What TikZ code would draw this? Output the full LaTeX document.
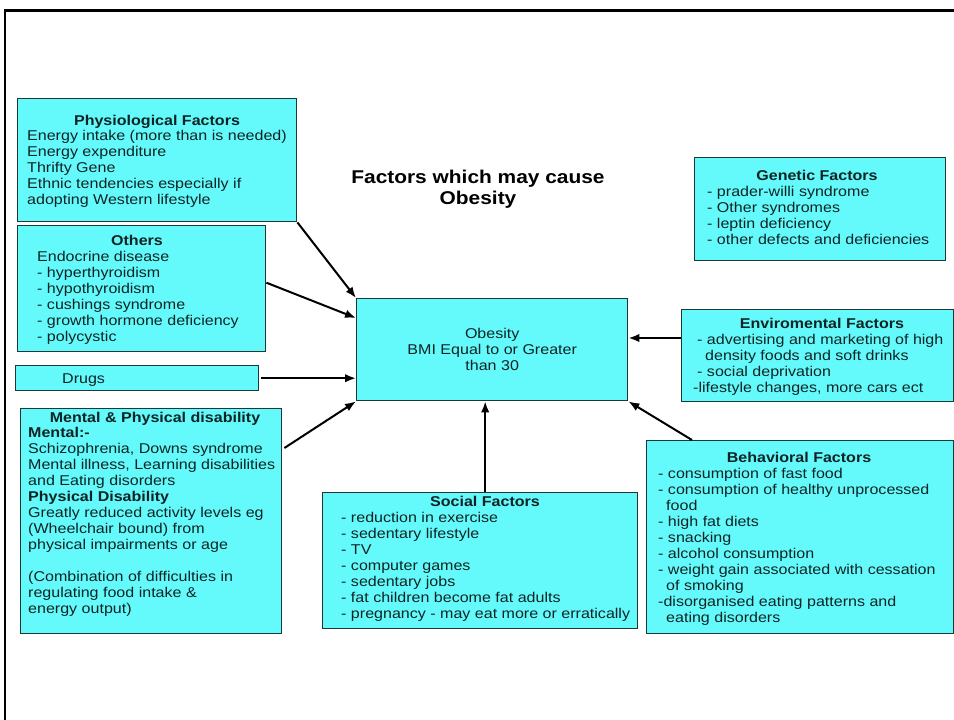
\documentclass[tikz,border=0pt]{standalone}
\usepackage{fontspec}
\setmainfont[FakeStretch=1.13]{Liberation Sans}
\usetikzlibrary{arrows.meta,calc}
\setlength{\parindent}{0pt}

\definecolor{boxfill}{RGB}{100,250,252}
\definecolor{boxline}{RGB}{30,55,55}
\definecolor{boxtext}{RGB}{14,36,36}
\newcommand{\bodysize}{\fontsize{14.2}{16}\selectfont}
\newcommand{\topstrut}{\rule{0pt}{12pt}}

\begin{document}
\begin{tikzpicture}[x=1pt,y=-1pt,
  panel/.style={draw=boxline, fill=boxfill, line width=1.4pt, inner sep=0pt, anchor=north west},
  head/.style={anchor=base, inner sep=0pt, font=\bodysize\bfseries, text=boxtext},
  body/.style={anchor=north west, inner sep=0pt, align=left, font=\bodysize, text=boxtext},
  arr/.style={line width=2pt, -{Latex[length=11pt,width=8.5pt]}}]

\useasboundingbox (0,0) rectangle (954,720);

% slide frame
\draw[line width=2.2pt] (5,720) -- (5,10.5) -- (954,10.5);

% title
\node[align=center, inner sep=0pt, font=\fontsize{18.5}{21}\selectfont\bfseries] (title) at (478,189)
  {Factors which may cause\\Obesity};

% boxes
\node[panel, minimum width=279pt, minimum height=123pt] (phys) at (17,98) {};
\node[panel, minimum width=248pt, minimum height=126pt] (others) at (17,225) {};
\node[panel, minimum width=243pt, minimum height=25pt] (drugs) at (15,365) {};
\node[panel, minimum width=261pt, minimum height=225pt] (mental) at (20,408) {};
\node[panel, minimum width=271pt, minimum height=102pt] (obes) at (356,298) {};
\node[panel, minimum width=251pt, minimum height=103pt] (genetic) at (694,157) {};
\node[panel, minimum width=272pt, minimum height=92pt] (env) at (681,309) {};
\node[panel, minimum width=307pt, minimum height=193pt] (behav) at (646,440) {};
\node[panel, minimum width=315pt, minimum height=136pt] (social) at (322,492) {};

% headings
\node[head] (physH) at (157,125) {Physiological Factors};
\node[head] (othersH) at (137,245) {Others};
\node[head] (mentalH) at (155,422) {Mental \& Physical disability};
\node[head] (geneticH) at (817,180) {Genetic Factors};
\node[head] (envH) at (822,328) {Enviromental Factors};
\node[head] (behavH) at (799,462) {Behavioral Factors};
\node[head] (socialH) at (485,506) {Social Factors};

% box texts
\node[body] (physT) at (27,128) {\topstrut Energy intake (more than is needed)\\
  Energy expenditure\\ Thrifty Gene\\ Ethnic tendencies especially if\\
  adopting Western lifestyle};

\node[body] (othersT) at (37,249) {\topstrut Endocrine disease\\ - hyperthyroidism\\
  - hypothyroidism\\ - cushings syndrome\\ - growth hormone deficiency\\ - polycystic};

\node[body] (drugsT) at (62,371) {\topstrut Drugs};

\node[body] (mentalT) at (28,425) {\topstrut\textbf{Mental:-}\\
  Schizophrenia, Downs syndrome\\ Mental illness, Learning disabilities\\
  and Eating disorders\\ \textbf{Physical Disability}\\
  Greatly reduced activity levels eg\\ (Wheelchair bound) from\\
  physical impairments or age\\[16pt]
  (Combination of difficulties in\\ regulating food intake \&\\ energy output)};

\node[align=center, inner sep=0pt, font=\bodysize, text=boxtext] (obesT) at (obes.center)
  {Obesity\\ BMI Equal to or Greater\\ than 30};

\node[body] (geneticT) at (707,184) {\topstrut - prader-willi syndrome\\
  - Other syndromes\\ - leptin deficiency\\ - other defects and deficiencies};

\node[body] (envT) at (693,332) {\topstrut\hspace*{4pt}- advertising and marketing of high\\
  \hspace*{12pt}density foods and soft drinks\\ \hspace*{4pt}- social deprivation\\
  -lifestyle changes, more cars ect};

\node[body] (behavT) at (658,466) {\topstrut - consumption of fast food\\
  - consumption of healthy unprocessed\\ \hspace*{8pt}food\\ - high fat diets\\
  - snacking\\ - alcohol consumption\\ - weight gain associated with cessation\\
  \hspace*{8pt}of smoking\\ -disorganised eating patterns and\\ \hspace*{8pt}eating disorders};

\node[body] (socialT) at (341,510) {\topstrut - reduction in exercise\\
  - sedentary lifestyle\\ - TV\\ - computer games\\ - sedentary jobs\\
  - fat children become fat adults\\ - pregnancy - may eat more or erratically};

% connectors
\coordinate (socTop) at ([xshift=5pt]social.north);
\coordinate (envIn) at ([yshift=-29pt]env.north west);
\draw[arr] (phys.south east) -- (obes.north west);
\draw[arr] ([yshift=6pt]others.east) -- ([yshift=-20pt]obes.north west);
\draw[arr] ([xshift=2pt]drugs.east) -- (obes.west |- drugs.east);
\draw[arr] ([xshift=2pt,yshift=-40pt]mental.north east) -- (obes.south west);
\draw[arr] (socTop) -- (socTop |- obes.south);
\draw[arr] (envIn) -- (obes.east |- envIn);
\draw[arr] ([xshift=46pt]behav.north west) -- (obes.south east);
\end{tikzpicture}
\end{document}
